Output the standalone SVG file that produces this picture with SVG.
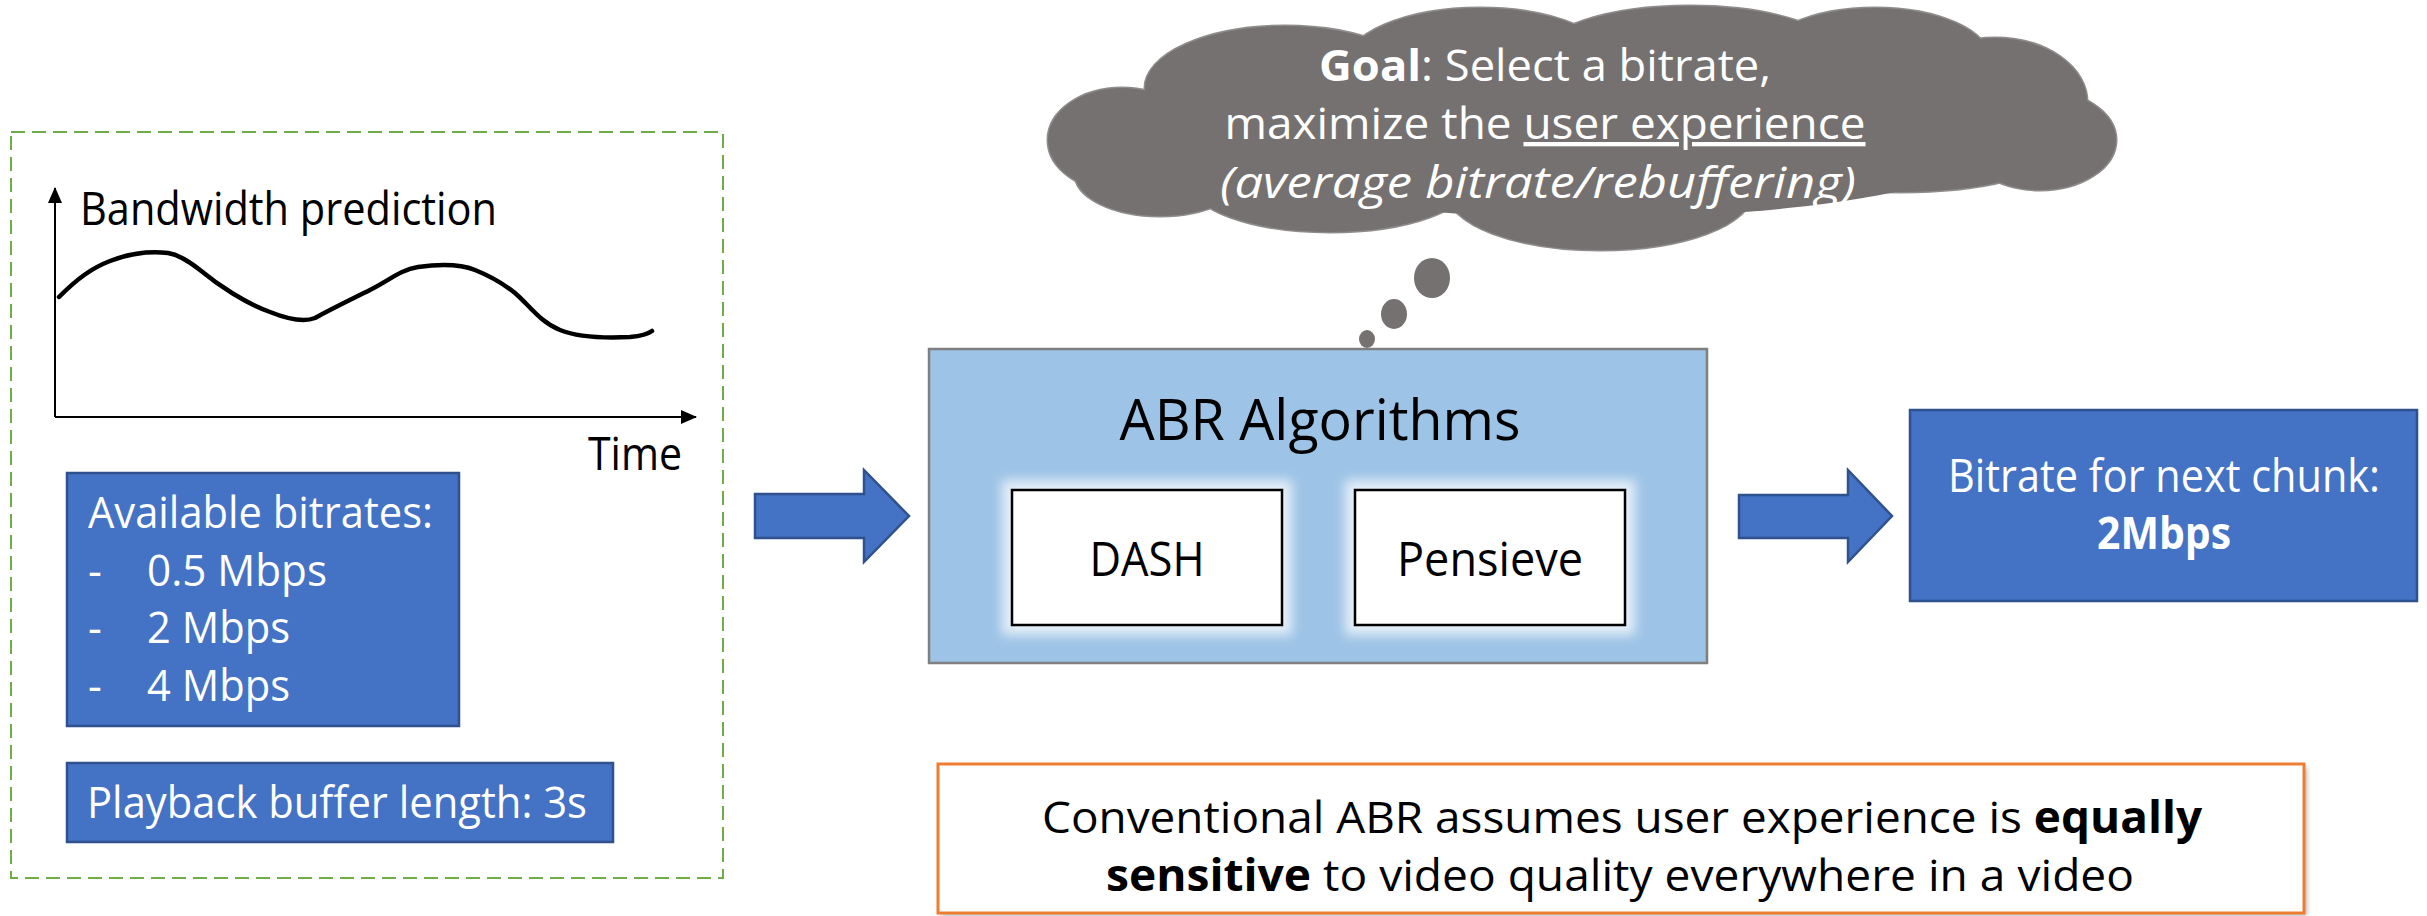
<svg xmlns="http://www.w3.org/2000/svg" width="2427" height="916" viewBox="0 0 2427 916">
<style>
text{font-family:"Open Sans","Noto Sans","Liberation Sans",sans-serif}
.w{fill:#ffffff}
.k{fill:#000000}
.blue{fill:#4472C4;stroke:#2F528F;stroke-width:2.5}
.inner{fill:#ffffff;stroke:#000000;stroke-width:2.5}
.cl{fill:#767171}
.clo{fill:none;stroke:#8f8c8c;stroke-width:3}
</style>
<defs>
<filter id="glow" x="-20%" y="-20%" width="140%" height="140%"><feGaussianBlur stdDeviation="6"/></filter>
<filter id="shadow" x="-5%" y="-10%" width="110%" height="130%"><feGaussianBlur stdDeviation="2.5"/></filter>
<marker id="ah" viewBox="0 0 16 14" refX="15" refY="7" markerWidth="16" markerHeight="14" markerUnits="userSpaceOnUse" orient="auto"><path d="M0,0 L16,7 L0,14 z" fill="#000"/></marker>
</defs>

<g id="input-panel">
<rect x="11" y="132" width="712" height="746" fill="none" stroke="#70AD47" stroke-width="2" stroke-dasharray="14 7"/>
<g id="chart">
<line x1="55" y1="417" x2="55" y2="188" stroke="#000" stroke-width="2" marker-end="url(#ah)"/>
<line x1="55" y1="417" x2="696" y2="417" stroke="#000" stroke-width="2" marker-end="url(#ah)"/>
<path d="M59,297 C78,278 92,268 110,261 C128,254 150,251 168,253 C180,255 190,262 200,270 C218,285 245,303 270,312 C290,320 305,322 315,318 C335,307 350,300 370,290 C390,280 400,270 418,267 C440,264 460,264 475,270 C495,278 505,285 515,293 C530,306 540,322 560,330 C580,338 610,338 630,337 C640,336 648,334 652,331" fill="none" stroke="#000" stroke-width="4.5" stroke-linecap="round"/>
<text x="80" y="225" font-size="45" class="k" textLength="417" lengthAdjust="spacingAndGlyphs">Bandwidth prediction</text>
<text x="588" y="470" font-size="45" class="k" textLength="94" lengthAdjust="spacingAndGlyphs">Time</text>
</g>
<g id="bitrates">
<rect x="67" y="473" width="392" height="253" class="blue"/>
<text x="88" y="528" font-size="43" class="w" textLength="345" lengthAdjust="spacingAndGlyphs">Available bitrates:</text>
<text x="88" y="586" font-size="43" class="w">-</text>
<text x="147" y="586" font-size="43" class="w" textLength="180" lengthAdjust="spacingAndGlyphs">0.5 Mbps</text>
<text x="88" y="643" font-size="43" class="w">-</text>
<text x="147" y="643" font-size="43" class="w" textLength="143" lengthAdjust="spacingAndGlyphs">2 Mbps</text>
<text x="88" y="701" font-size="43" class="w">-</text>
<text x="147" y="701" font-size="43" class="w" textLength="143" lengthAdjust="spacingAndGlyphs">4 Mbps</text>
</g>
<g id="buffer">
<rect x="67" y="763" width="546" height="79" class="blue"/>
<text x="87" y="818" font-size="43" class="w" textLength="500" lengthAdjust="spacingAndGlyphs">Playback buffer length: 3s</text>
</g>
</g>

<g id="goal-cloud">
<g class="clo">
<ellipse cx="1122" cy="140" rx="74" ry="52"/>
<ellipse cx="1160" cy="174" rx="85" ry="42"/>
<ellipse cx="1285" cy="88" rx="140" ry="62"/>
<ellipse cx="1480" cy="66" rx="135" ry="58"/>
<ellipse cx="1690" cy="56" rx="150" ry="50"/>
<ellipse cx="1875" cy="60" rx="115" ry="52"/>
<ellipse cx="1995" cy="102" rx="92" ry="64"/>
<ellipse cx="2040" cy="140" rx="76" ry="50"/>
<ellipse cx="1900" cy="154" rx="150" ry="38"/>
<ellipse cx="1600" cy="193" rx="152" ry="57"/>
<ellipse cx="1330" cy="182" rx="140" ry="50"/>
</g>
<g class="cl">
<ellipse cx="1122" cy="140" rx="74" ry="52"/>
<ellipse cx="1160" cy="174" rx="85" ry="42"/>
<ellipse cx="1285" cy="88" rx="140" ry="62"/>
<ellipse cx="1480" cy="66" rx="135" ry="58"/>
<ellipse cx="1690" cy="56" rx="150" ry="50"/>
<ellipse cx="1875" cy="60" rx="115" ry="52"/>
<ellipse cx="1995" cy="102" rx="92" ry="64"/>
<ellipse cx="2040" cy="140" rx="76" ry="50"/>
<ellipse cx="1900" cy="154" rx="150" ry="38"/>
<ellipse cx="1600" cy="193" rx="152" ry="57"/>
<ellipse cx="1330" cy="182" rx="140" ry="50"/>
<ellipse cx="1590" cy="130" rx="430" ry="88"/>
</g>
<ellipse cx="1432" cy="278" rx="18" ry="20" class="cl"/>
<ellipse cx="1394" cy="314" rx="13" ry="15" class="cl"/>
<ellipse cx="1367" cy="339" rx="8" ry="9" class="cl"/>
<text x="1545" y="81" font-size="43" class="w" text-anchor="middle" textLength="452" lengthAdjust="spacingAndGlyphs"><tspan font-weight="bold">Goal</tspan>: Select a bitrate,</text>
<text x="1545" y="139" font-size="43" class="w" text-anchor="middle" textLength="641" lengthAdjust="spacingAndGlyphs">maximize the <tspan text-decoration="underline">user experience</tspan></text>
<text x="1538" y="198" font-size="43" class="w" font-style="italic" text-anchor="middle" textLength="636" lengthAdjust="spacingAndGlyphs">(average bitrate/rebuffering)</text>
</g>

<g id="abr">
<rect x="929" y="349" width="778" height="314" fill="#9DC3E6" stroke="#7F7F7F" stroke-width="2.5"/>
<text x="1320" y="440" font-size="57" class="k" text-anchor="middle" textLength="401" lengthAdjust="spacingAndGlyphs">ABR Algorithms</text>
<g id="dash">
<rect x="1002" y="480" width="290" height="155" fill="#ffffff" opacity="0.75" filter="url(#glow)"/>
<rect x="1012" y="490" width="270" height="135" class="inner"/>
<text x="1147" y="576" font-size="48" class="k" text-anchor="middle" textLength="115" lengthAdjust="spacingAndGlyphs">DASH</text>
</g>
<g id="pensieve">
<rect x="1345" y="480" width="290" height="155" fill="#ffffff" opacity="0.75" filter="url(#glow)"/>
<rect x="1355" y="490" width="270" height="135" class="inner"/>
<text x="1490" y="576" font-size="48" class="k" text-anchor="middle" textLength="186" lengthAdjust="spacingAndGlyphs">Pensieve</text>
</g>
</g>

<g id="output">
<rect x="1910" y="410" width="507" height="191" class="blue"/>
<text x="2164" y="492" font-size="45" class="w" text-anchor="middle" textLength="432" lengthAdjust="spacingAndGlyphs">Bitrate for next chunk:</text>
<text x="2164" y="549" font-size="45" class="w" font-weight="bold" text-anchor="middle" textLength="134" lengthAdjust="spacingAndGlyphs">2Mbps</text>
</g>

<g id="note">
<rect x="941" y="767" width="1366" height="149" fill="#9a9a9a" opacity="0.7" filter="url(#shadow)"/>
<rect x="938" y="764" width="1366" height="149" fill="#ffffff" stroke="#ED7D31" stroke-width="3"/>
<text x="1622" y="833" font-size="44" class="k" text-anchor="middle" textLength="1160" lengthAdjust="spacingAndGlyphs">Conventional ABR assumes user experience is <tspan font-weight="bold">equally</tspan></text>
<text x="1620" y="891" font-size="44" class="k" text-anchor="middle" textLength="1028" lengthAdjust="spacingAndGlyphs"><tspan font-weight="bold">sensitive</tspan> to video quality everywhere in a video</text>
</g>

<g id="connectors">
<path d="M755,494 L864,494 L864,470 L909,516 L864,562 L864,538 L755,538 Z" class="blue"/>
<path d="M1739,495 L1848,495 L1848,470 L1892,516 L1848,562 L1848,538 L1739,538 Z" class="blue"/>
</g>
</svg>
